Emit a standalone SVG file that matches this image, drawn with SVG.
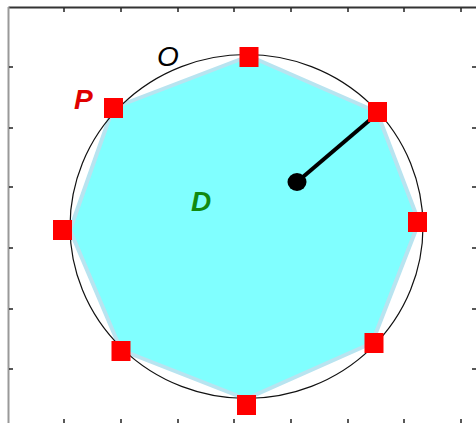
<svg xmlns="http://www.w3.org/2000/svg" width="476" height="423" viewBox="0 0 476 423">
<style>
.tick{stroke:#222;stroke-width:1.5}
.pt{fill:#ff0000}
.lbl{font-family:"Liberation Sans",Arial,sans-serif;font-style:italic;font-size:28px}
</style>
<rect width="476" height="423" fill="#fff"/>
<g id="axes">
<line x1="8.5" y1="7.5" x2="476" y2="7.5" stroke="#333" stroke-width="1.8"/>
<line x1="8.5" y1="7" x2="8.5" y2="423" stroke="#999" stroke-width="2"/>
<g class="tick">
<path d="M64 8v4M121 8v4M178 8v4M234 8v4M291 8v4M348 8v4M404 8v4M461 8v4"/>
<path d="M64 423v-4M121 423v-4M178 423v-4M234 423v-4M291 423v-4M348 423v-4M404 423v-4M461 423v-4"/>
<path d="M9 67h4M9 128h4M9 187h4M9 248h4M9 309h4M9 369h4"/>
<path d="M476 67h-4M476 128h-4M476 187h-4M476 248h-4M476 309h-4M476 369h-4"/>
</g>
</g>
<g id="D">
<polygon points="249,56 377,112 419,222 372,343 246,399 121,350 70,230 113,108" fill="#80ffff" stroke="#b8e4f0" stroke-width="4" stroke-linejoin="round"/>
</g>
<g id="O">
<ellipse cx="246.5" cy="226.5" rx="176.5" ry="172" fill="none" stroke="#111" stroke-width="1.2"/>
</g>
<g id="connectors">
<line x1="297" y1="182" x2="371" y2="119" stroke="#000" stroke-width="4"/>
</g>
<g id="center">
<ellipse cx="297" cy="182" rx="9.5" ry="9" fill="#000"/>
</g>
<g id="P">
<rect class="pt" x="239.5" y="47" width="19" height="20"/>
<rect class="pt" x="104" y="98" width="19" height="20"/>
<rect class="pt" x="368" y="102" width="19" height="20"/>
<rect class="pt" x="408" y="212" width="19" height="20"/>
<rect class="pt" x="53" y="220" width="19" height="20"/>
<rect class="pt" x="111.5" y="341" width="19" height="20"/>
<rect class="pt" x="364.5" y="333" width="19" height="20"/>
<rect class="pt" x="237" y="395" width="19" height="20"/>
</g>
<g id="labels">
<text class="lbl" x="157" y="66" fill="#000">O</text>
<text class="lbl" x="74" y="109" fill="#e00000" font-weight="bold">P</text>
<text class="lbl" x="191" y="211" fill="#108a10" font-weight="bold">D</text>
</g>
</svg>
